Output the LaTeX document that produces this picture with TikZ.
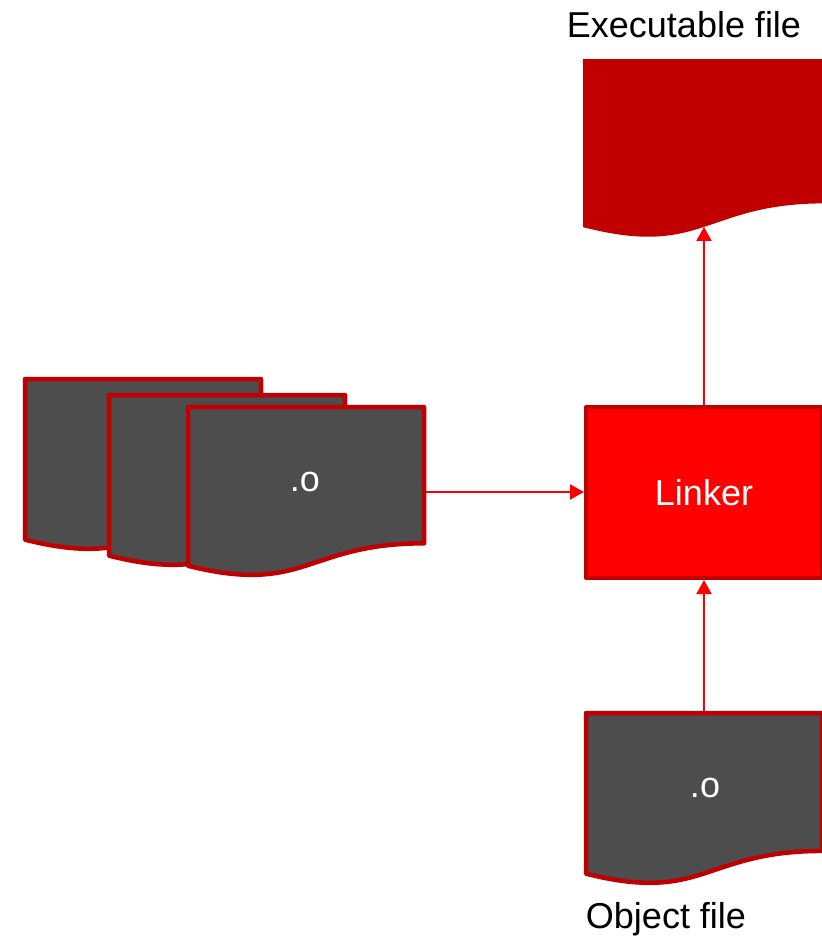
\documentclass[tikz,border=0pt]{standalone}
\usepackage{fontspec}
\setmainfont{Liberation Sans}
\usetikzlibrary{arrows.meta,calc}
\definecolor{dred}{HTML}{C00000}
\definecolor{bred}{HTML}{FF0000}
\definecolor{dgray}{HTML}{4D4D4D}
\tikzset{
 docfill/.style={fill=dgray,draw=dred,line width=4.5pt,line join=round},
 execfill/.style={fill=dred},
 wtxt/.style={text=white,font=\fontsize{36}{40}\selectfont,inner sep=0},
 btxt/.style={text=black,font=\fontsize{36}{40}\selectfont,inner sep=0},
 arr/.style={draw=bred,line width=2pt,-{Triangle[length=14pt,width=15pt]}},
 linkerbox/.style={draw=dred,fill=bred,line width=4pt,line join=round,inner sep=0,outer sep=2pt,
   text=white,font=\fontsize{36}{40}\selectfont},
}
% name, style, x, y, w, h, outer sep
\newcommand{\docshape}[7]{%
  \path[#2] (#3,#4) -- ({#3+#5},#4) -- ({#3+#5},{#4+0.802*#6})
    .. controls ({#3+#5/2},{#4+0.802*#6}) and ({#3+#5/2},{#4+1.1075*#6}) .. (#3,{#4+0.934*#6}) -- cycle;
  \node[inner sep=0,outer sep=#7,minimum width=#5pt,minimum height=#6pt] (#1) at ({#3+#5/2},{#4+#6/2}) {};}
\begin{document}
\begin{tikzpicture}[x=1pt,y=-1pt]
\clip (0,0) rectangle (822,940);
% executable file
\docshape{exec}{execfill}{583}{59}{242}{180}{0pt}
\coordinate (execin) at (704,{59+0.933*180});
\node[btxt,anchor=base] (execlbl) at (684,37) {Executable file};
% linker
\node[linkerbox,minimum width=236pt,minimum height=171pt] (linker) at (704,492.5) {Linker};
% stack of object files
\docshape{s1}{docfill}{25}{379}{236}{172}{2.25pt}
\docshape{s2}{docfill}{109}{395}{236}{172}{2.25pt}
\docshape{s3}{docfill}{188}{407}{236}{170}{2.25pt}
\node[wtxt,anchor=base] (s3txt) at (305,491) {.o};
% single object file
\docshape{obj}{docfill}{586}{713}{236}{172}{2.25pt}
\node[wtxt,anchor=base] (objtxt) at (705,797) {.o};
\node[btxt,anchor=base] (objlbl) at (666,928) {Object file};
% connectors
\draw[arr] (s3.east) -- (s3.east -| linker.west);
\draw[arr] (linker.north) -- (execin);
\draw[arr] (obj.north) -- (obj.north |- linker.south);
\end{tikzpicture}
\end{document}
